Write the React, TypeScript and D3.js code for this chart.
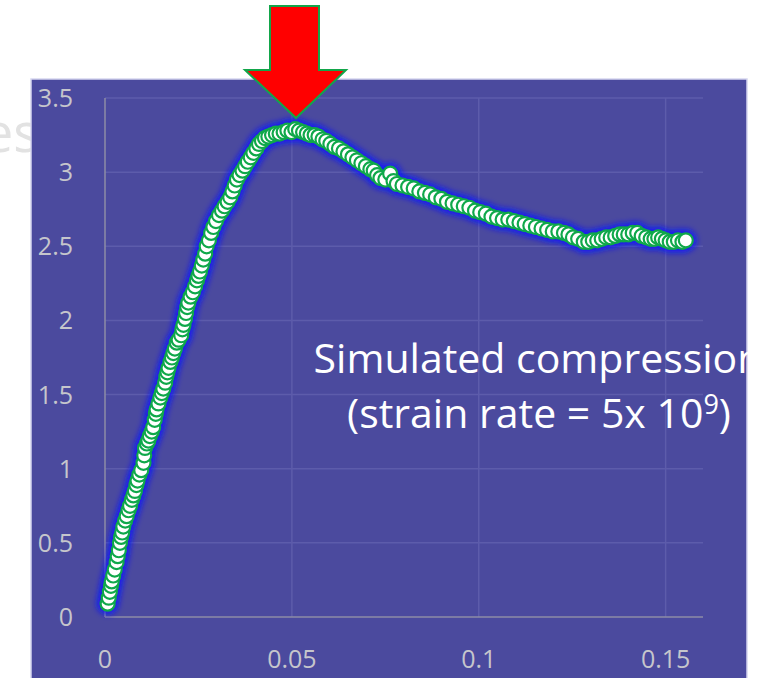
import React from "react";
import * as d3 from "d3";

const strain: number[] = [
  0.0007, 0.0010, 0.0013, 0.0016, 0.0018, 0.0022, 0.0026, 0.0031, 0.0034, 0.0037,
  0.0040, 0.0043, 0.0046, 0.0049, 0.0054, 0.0058, 0.0063, 0.0067, 0.0072, 0.0076,
  0.0080, 0.0084, 0.0087, 0.0092, 0.0097, 0.0103, 0.0105, 0.0107, 0.0112, 0.0116,
  0.0120, 0.0125, 0.0129, 0.0133, 0.0136, 0.0138, 0.0143, 0.0148, 0.0152, 0.0156,
  0.0161, 0.0164, 0.0167, 0.0170, 0.0175, 0.0179, 0.0183, 0.0187, 0.0192, 0.0197,
  0.0204, 0.0207, 0.0210, 0.0214, 0.0217, 0.0220, 0.0223, 0.0229, 0.0235, 0.0241,
  0.0246, 0.0250, 0.0254, 0.0259, 0.0263, 0.0268, 0.0272, 0.0278, 0.0284, 0.0290,
  0.0297, 0.0305, 0.0313, 0.0320, 0.0328, 0.0335, 0.0341, 0.0347, 0.0353, 0.0360,
  0.0368, 0.0375, 0.0382, 0.0390, 0.0397, 0.0405, 0.0412, 0.0420, 0.0428, 0.0437,
  0.0447, 0.0457, 0.0467, 0.0478, 0.0488, 0.0499, 0.0509, 0.0519, 0.0530, 0.0540,
  0.0550, 0.0561, 0.0571, 0.0582, 0.0592, 0.0603, 0.0614, 0.0626, 0.0638, 0.0650,
  0.0662, 0.0674, 0.0686, 0.0698, 0.0710, 0.0719, 0.0728, 0.0737, 0.0750, 0.0763,
  0.0772, 0.0781, 0.0796, 0.0811, 0.0826, 0.0841, 0.0856, 0.0870, 0.0885, 0.0900,
  0.0915, 0.0930, 0.0945, 0.0960, 0.0975, 0.0990, 0.1004, 0.1019, 0.1034, 0.1049,
  0.1064, 0.1079, 0.1094, 0.1109, 0.1123, 0.1138, 0.1153, 0.1168, 0.1183, 0.1198,
  0.1213, 0.1228, 0.1240, 0.1252, 0.1266, 0.1281, 0.1293, 0.1305, 0.1317, 0.1329,
  0.1341, 0.1353, 0.1365, 0.1377, 0.1388, 0.1400, 0.1412, 0.1424, 0.1436, 0.1448,
  0.1460, 0.1470, 0.1480, 0.1490, 0.1500, 0.1511, 0.1522, 0.1533, 0.1545, 0.1554,
];

const stress: number[] = [
  0.09, 0.13, 0.17, 0.21, 0.24, 0.28, 0.32, 0.37, 0.41, 0.45,
  0.50, 0.54, 0.57, 0.61, 0.65, 0.68, 0.72, 0.75, 0.79, 0.82,
  0.85, 0.89, 0.92, 0.96, 0.99, 1.04, 1.09, 1.14, 1.17, 1.19,
  1.22, 1.25, 1.28, 1.33, 1.37, 1.40, 1.44, 1.48, 1.51, 1.54,
  1.58, 1.62, 1.65, 1.68, 1.72, 1.75, 1.78, 1.81, 1.85, 1.87,
  1.90, 1.94, 1.97, 2.01, 2.05, 2.09, 2.12, 2.16, 2.19, 2.23,
  2.27, 2.30, 2.33, 2.37, 2.41, 2.45, 2.50, 2.54, 2.59, 2.63,
  2.67, 2.71, 2.74, 2.77, 2.80, 2.83, 2.87, 2.91, 2.95, 2.98,
  3.01, 3.04, 3.07, 3.10, 3.13, 3.16, 3.19, 3.21, 3.23, 3.24,
  3.25, 3.26, 3.26, 3.27, 3.28, 3.27, 3.29, 3.28, 3.27, 3.26,
  3.25, 3.25, 3.24, 3.22, 3.21, 3.19, 3.17, 3.16, 3.14, 3.12,
  3.10, 3.08, 3.06, 3.04, 3.02, 3.01, 2.98, 2.96, 2.95, 2.99,
  2.94, 2.92, 2.91, 2.90, 2.89, 2.87, 2.86, 2.85, 2.83, 2.82,
  2.80, 2.79, 2.78, 2.77, 2.76, 2.74, 2.73, 2.72, 2.70, 2.69,
  2.68, 2.68, 2.67, 2.66, 2.65, 2.64, 2.63, 2.62, 2.61, 2.60,
  2.60, 2.59, 2.58, 2.56, 2.55, 2.53, 2.53, 2.54, 2.54, 2.55,
  2.56, 2.56, 2.57, 2.58, 2.58, 2.58, 2.59, 2.59, 2.57, 2.56,
  2.55, 2.55, 2.56, 2.55, 2.54, 2.53, 2.53, 2.54, 2.53, 2.54,
];

const xTicks: number[] = [0, 0.05, 0.1, 0.15];
const yTicks: number[] = [0, 0.5, 1, 1.5, 2, 2.5, 3, 3.5];
const xTickLabels: string[] = ["0", "0.05", "0.1", "0.15"];
const yTickLabels: string[] = ["0", "0.5", "1", "1.5", "2", "2.5", "3", "3.5"];

const W = 760;
const H = 678;

export default function App() {
  const x = d3.scaleLinear().domain([0, 0.16]).range([105, 703]);
  const y = d3.scaleLinear().domain([0, 3.5]).range([617, 98]);
  const pts = strain.map((s, i) => ({ s, v: stress[i] }));
  const font = "'Open Sans', 'DejaVu Sans', sans-serif";
  const arrow = d3.line()([
    [270, 6], [319, 6], [319, 70], [346, 70], [296, 118], [245, 70], [270, 70],
  ]) + "Z";

  return (
    <svg width={W} height={H} style={{ position: "absolute", left: 0, top: 0 }}>
      <defs>
        <filter id="glow" x="-20%" y="-20%" width="140%" height="140%">
          <feGaussianBlur stdDeviation="3" />
        </filter>
      </defs>
      <rect x={0} y={0} width={W} height={H} fill="#ffffff" />
      <text x={-17} y={152} fontFamily={font} fontSize={54} fill="#e2e2e2">es</text>
      <rect x={31} y={79} width={716} height={640} fill="#4b4a9e" stroke="#d6d6ef" strokeWidth={1.5} />

      {/* gridlines */}
      {yTicks.filter((t) => t > 0).map((t) => (
        <line key={"gy" + t} x1={x(0)} x2={x(0.16)} y1={y(t)} y2={y(t)} stroke="#5d5cab" strokeWidth={1.5} />
      ))}
      {xTicks.filter((t) => t > 0).map((t) => (
        <line key={"gx" + t} x1={x(t)} x2={x(t)} y1={y(0)} y2={y(3.5)} stroke="#5d5cab" strokeWidth={1.5} />
      ))}
      {/* axes */}
      <line x1={x(0)} x2={x(0)} y1={y(0)} y2={y(3.5)} stroke="#8d8ca6" strokeWidth={1.5} />
      <line x1={x(0)} x2={x(0.16)} y1={y(0)} y2={y(0)} stroke="#8d8ca6" strokeWidth={1.5} />

      {/* tick labels */}
      {yTicks.map((t, i) => (
        <text key={"ly" + t} x={73} y={y(t)} dy="0.36em" textAnchor="end" fontFamily={font} fontSize={25} fill="#c6c6cc">
          {yTickLabels[i]}
        </text>
      ))}
      {xTicks.map((t, i) => (
        <text key={"lx" + t} x={x(t)} y={668} textAnchor="middle" fontFamily={font} fontSize={25} fill="#c6c6cc">
          {xTickLabels[i]}
        </text>
      ))}

      {/* glow */}
      <g filter="url(#glow)">
        {pts.map((p, i) => (
          <circle key={"g" + i} cx={x(p.s)} cy={y(p.v)} r={10.5} fill="#0a14ff" />
        ))}
      </g>
      {/* markers */}
      <g>
        {pts.map((p, i) => (
          <circle key={"m" + i} cx={x(p.s)} cy={y(p.v)} r={7} fill="#ffffff" stroke="#0fa84a" strokeWidth={2.2} />
        ))}
      </g>

      {/* annotation */}
      <text x={538} y={373} textAnchor="middle" fontFamily={font} fontSize={41} fill="#ffffff">
        Simulated compression
      </text>
      <text x={539} y={428} textAnchor="middle" fontFamily={font} fontSize={41} fill="#ffffff">
        (strain rate = 5x 10<tspan fontSize={27} dy={-14}>9</tspan><tspan dy={14}>)</tspan>
      </text>

      {/* arrow */}
      <path d={arrow} fill="#ff0000" stroke="#12a64a" strokeWidth={2} strokeLinejoin="miter" />
    </svg>
  );
}
